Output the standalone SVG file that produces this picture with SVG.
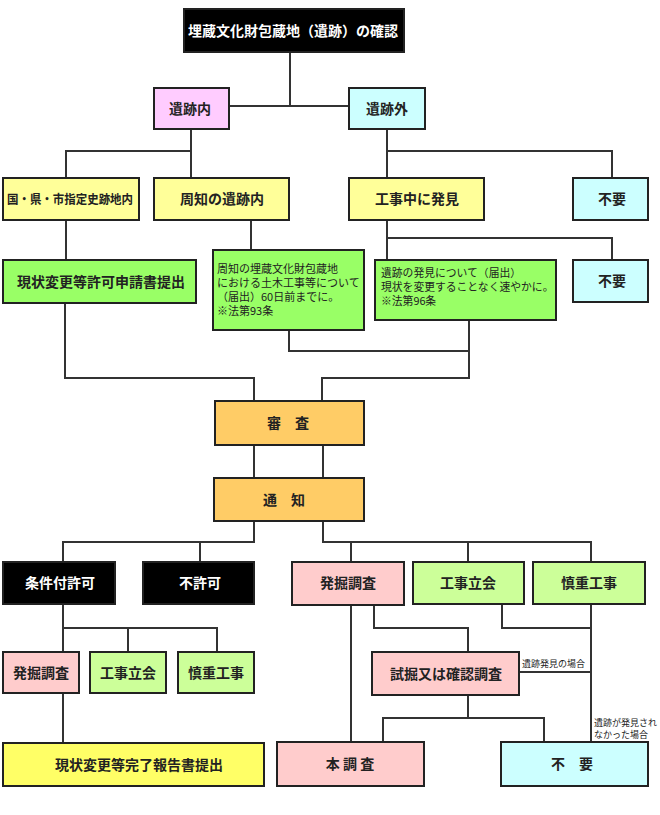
<svg xmlns="http://www.w3.org/2000/svg" width="660" height="815" viewBox="0 0 660 815">
<style>
text{font-family:"Noto Sans CJK JP","Noto Sans CJK SC",sans-serif;font-size:14px;fill:#222;text-anchor:middle;font-weight:bold}
.b{stroke:#222;stroke-width:2}
.blk{fill:#000}
.pk{fill:#ffccff}
.cy{fill:#ccffff}
.yl{fill:#ffff99}
.yl2{fill:#ffff66}
.gr{fill:#99ff66}
.lg{fill:#ccff99}
.rd{fill:#ffcccc}
.or{fill:#ffcc66}
.n{font-size:11px;text-anchor:start;font-weight:normal}
.n2{font-size:10.8px;text-anchor:start;font-weight:normal}
.s{font-size:9px;text-anchor:start;font-weight:normal}
#connectors path{fill:none;stroke:#333;stroke-width:2}
</style>
<rect width="660" height="815" fill="#fff"/>
<g id="connectors">
<path d="M290 52V106M229 106H349"/>
<path d="M191 129V178M66 178V151H191"/>
<path d="M387 129V178M387 151H612V178"/>
<path d="M66 220V260M251 220V250"/>
<path d="M387 220V260M387 238H612V260"/>
<path d="M65 303V378H254V401"/>
<path d="M289 330V351H469M469 320V378H322V401"/>
<path d="M254 445V478M323 445V478"/>
<path d="M254 521V542H63V562M200 542V562"/>
<path d="M323 521V542H591V562M351 542V562M468 542V562"/>
<path d="M63 604V652M63 628H217V652M128 628V652"/>
<path d="M63 693V743"/>
<path d="M351 605V742M374 605V628H468V652"/>
<path d="M502 604V628H591M591 604V742M519 672H591"/>
<path d="M468 695V718M383 742V718H544V742"/>
</g>
<g id="n-title"><rect class="b blk" x="184" y="9" width="220" height="43"/><text x="293" y="36" style="fill:#fff">埋蔵文化財包蔵地（遺跡）の確認</text></g>
<g id="n-inside"><rect class="b pk" x="154" y="88" width="75" height="41"/><text x="190" y="114">遺跡内</text></g>
<g id="n-outside"><rect class="b cy" x="349" y="88" width="76" height="41"/><text x="387" y="114">遺跡外</text></g>
<g id="n-designated"><rect class="b yl" x="3" y="178" width="136" height="42"/><text x="70" y="204" style="font-size:12.5px" textLength="126" lengthAdjust="spacingAndGlyphs">国・県・市指定史跡地内</text></g>
<g id="n-known"><rect class="b yl" x="154" y="178" width="135" height="42"/><text x="222" y="204">周知の遺跡内</text></g>
<g id="n-discovery"><rect class="b yl" x="349" y="178" width="135" height="42"/><text x="417" y="204">工事中に発見</text></g>
<g id="n-unneeded1"><rect class="b cy" x="573" y="178" width="75" height="42"/><text x="612" y="204">不要</text></g>
<g id="n-permit"><rect class="b gr" x="3" y="260" width="193" height="43"/><text x="101" y="287">現状変更等許可申請書提出</text></g>
<g id="n-notice93"><rect class="b gr" x="213" y="250" width="151" height="80"/>
<text class="n"><tspan x="217" y="273">周知の埋蔵文化財包蔵地</tspan><tspan x="217" y="287">における土木工事等について</tspan><tspan x="217" y="301">（届出）60日前までに。</tspan><tspan x="217" y="315">※法第93条</tspan></text></g>
<g id="n-notice96"><rect class="b gr" x="375" y="260" width="181" height="60"/>
<text class="n2"><tspan x="381" y="277">遺跡の発見について（届出）</tspan><tspan x="381" y="291">現状を変更することなく速やかに。</tspan><tspan x="381" y="305">※法第96条</tspan></text></g>
<g id="n-unneeded2"><rect class="b cy" x="573" y="260" width="75" height="42"/><text x="612" y="286">不要</text></g>
<g id="n-review"><rect class="b or" x="215" y="401" width="149" height="44"/><text x="288" y="428">審　査</text></g>
<g id="n-notify"><rect class="b or" x="214" y="478" width="150" height="43"/><text x="284" y="505">通　知</text></g>
<g id="n-conditional"><rect class="b blk" x="3" y="562" width="112" height="42"/><text x="60" y="588" style="fill:#fff">条件付許可</text></g>
<g id="n-denied"><rect class="b blk" x="143" y="562" width="111" height="42"/><text x="200" y="588" style="fill:#fff">不許可</text></g>
<g id="n-excav"><rect class="b rd" x="292" y="562" width="112" height="43"/><text x="348" y="588">発掘調査</text></g>
<g id="n-witness"><rect class="b lg" x="413" y="562" width="111" height="42"/><text x="468" y="588">工事立会</text></g>
<g id="n-careful"><rect class="b lg" x="533" y="562" width="112" height="42"/><text x="589" y="588">慎重工事</text></g>
<g id="n-excav-l"><rect class="b rd" x="3" y="652" width="76" height="41"/><text x="41" y="678">発掘調査</text></g>
<g id="n-witness-l"><rect class="b lg" x="90" y="652" width="76" height="41"/><text x="128" y="678">工事立会</text></g>
<g id="n-careful-l"><rect class="b lg" x="178" y="652" width="76" height="41"/><text x="216" y="678">慎重工事</text></g>
<g id="n-trial"><rect class="b rd" x="372" y="652" width="147" height="43"/><text x="446" y="679">試掘又は確認調査</text></g>
<g id="lbl-found"><text class="s" x="522" y="667">遺跡発見の場合</text></g>
<g id="lbl-notfound"><text class="s"><tspan x="594" y="726">遺跡が発見され</tspan><tspan x="594" y="738">なかった場合</tspan></text></g>
<g id="n-report"><rect class="b yl2" x="3" y="743" width="261" height="43"/><text x="139" y="770">現状変更等完了報告書提出</text></g>
<g id="n-main"><rect class="b rd" x="277" y="742" width="147" height="44"/><text x="350" y="769">本 調 査</text></g>
<g id="n-unneeded3"><rect class="b cy" x="501" y="742" width="147" height="44"/><text x="572" y="769">不　要</text></g>
</svg>
